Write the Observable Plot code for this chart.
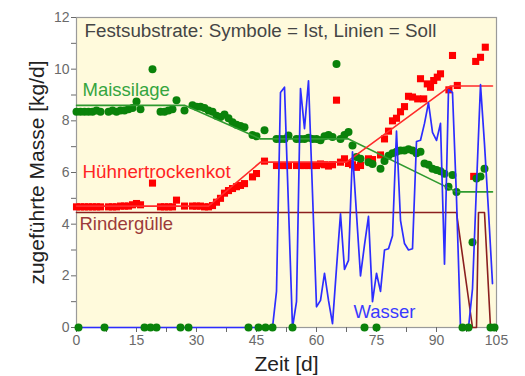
<!DOCTYPE html>
<html>
<head>
<meta charset="utf-8">
<script src="https://cdn.jsdelivr.net/npm/d3@7"></script>
<script src="https://cdn.jsdelivr.net/npm/@observablehq/plot@0.6"></script>
<style>
  body { margin: 0; background: #fff; }
</style>
</head>
<body>
<div id="chart"></div>
<script>
// Maissilage – measured feed (Ist), kg/d
const maisDays = [0,1,2,3,4,5,6,8,9,10,11,12,13,14,15,16,19,21,22,23,24,25,27,29,30,31,32,33,34,35,36,37,38,39,40,41,42,44,45,47,50,51,52,53,55,56,57,58,59,60,61,62,63,64,65,66,67,68,69,70,71,73,74,76,77,78,79,80,81,82,83,84,85,86,87,88,89,90,91,92,93,94,95,99,100,101,102];
const maisIst  = [8.35,8.35,8.35,8.35,8.35,8.4,8.35,8.35,8.4,8.35,8.4,8.4,8.45,8.5,8.75,8.45,10.0,8.35,8.35,8.4,8.45,8.8,8.4,8.6,8.55,8.55,8.5,8.4,8.35,8.2,8.15,8.25,8.1,7.95,7.85,7.8,7.75,7.45,7.4,7.64,7.3,7.3,7.3,7.43,7.3,7.3,7.3,7.35,7.3,7.3,7.25,7.4,7.45,7.37,10.2,7.3,7.45,7.57,7.05,6.6,6.53,6.4,6.33,6.15,6.45,6.65,6.75,6.8,6.85,6.85,6.9,6.85,6.75,6.8,6.35,6.3,6.15,6.1,6.05,5.95,5.45,5.9,5.25,3.3,5.77,5.85,6.15];

// Hühnertrockenkot – measured feed (Ist), kg/d
const huhnDays = [0,1,2,3,4,5,6,8,9,10,11,12,13,14,15,16,19,21,22,23,24,25,27,29,30,31,32,33,34,35,36,37,38,39,40,41,42,44,45,47,50,51,52,53,55,56,57,58,59,60,61,62,63,64,65,66,67,68,69,70,71,73,74,76,77,78,79,80,81,82,83,84,85.3,86,86.8,87.7,88.5,89.3,90.2,91,93.1,94,95.2,99.3,99.8,101,102.2];
const huhnIst  = [4.67,4.67,4.67,4.67,4.67,4.67,4.67,4.67,4.67,4.67,4.7,4.7,4.7,4.75,4.8,4.75,5.59,4.67,4.67,4.67,4.67,4.93,4.7,4.7,4.7,4.7,4.67,4.67,4.72,4.85,5.0,5.2,5.3,5.38,5.45,5.5,5.57,5.83,5.96,6.44,6.27,6.27,6.27,6.27,6.27,6.27,6.27,6.27,6.27,6.27,6.33,6.3,6.25,6.3,8.8,6.4,6.53,6.35,6.3,6.2,6.27,6.53,6.5,6.68,7.3,7.6,8.0,8.1,8.35,8.55,8.95,8.92,8.85,9.63,8.85,9.43,9.3,9.56,9.69,9.82,9.2,10.53,9.37,5.85,10.3,10.46,10.85];

// Days with no solid feed delivered (plotted at zero)
const zeroDays = [0.5,7,17,18.5,20,26,28,43,45.5,47.25,49,54,72,75,96.5,98,103.5,104.5];

// Target feed plans (Soll), kg/d
const maisSollDays = [0,27,46,68,95,104];
const maisSoll     = [8.6,8.6,7.3,7.3,5.25,5.25];
const huhnSollDays = [0,33,46,67.5,93.5,104];
const huhnSoll     = [4.7,4.7,6.4,6.4,9.35,9.35];
const rindSollDays = [0,95,99,100,100.5,102,103.5,105];
const rindSoll     = [4.45,4.45,0,0,4.45,4.45,0,0];

// Wasser – daily water addition, kg/d
const wasserDays = [0,49,50,51,52,53,54,55,56,57,58,59,60,61,62,63,64,65,66,67,68,69,70,71,72,73,74,75,76,77,78,79,80,81,82,83,84,85,86,87,88,89,90,91,92,93,94,95,96,97,98,99,100,101,102,103,104];
const wasser     = [0,0,1.4,9.1,9.3,4.65,0,1.0,9.25,7.7,9.55,5.2,0.8,1.05,2.1,1.05,0.15,2.3,4.4,2.25,2.6,6.8,4.4,2.0,3.2,4.3,1.0,2.1,1.4,3.0,3.05,3.55,7.6,4.15,3.25,3.0,3.05,7.2,7.25,7.9,8.7,7.55,7.24,7.9,2.45,9.2,9.1,5.0,0,0,0,1.5,5.5,9.4,7.1,4.5,1.7];

// Axis ticks
const xTicks = d3.range(0, 105.1, 7.5);
const yTicks = d3.range(0, 12.1, 1);

const zip = (xs, ys) => xs.map((x, i) => ({x, y: ys[i]}));
const maisIstData = zip(maisDays, maisIst);
const huhnIstData = zip(huhnDays, huhnIst);
const zeroData = zeroDays.map(x => ({x, y: 0}));
const maisSollData = zip(maisSollDays, maisSoll);
const huhnSollData = zip(huhnSollDays, huhnSoll);
const rindSollData = zip(rindSollDays, rindSoll);
const wasserData = zip(wasserDays, wasser);

const font = "Arial, 'Liberation Sans', Helvetica, sans-serif";

const chart = Plot.plot({
  width: 525,
  height: 376,
  marginLeft: 76,
  marginRight: 29,
  marginTop: 17,
  marginBottom: 49,
  style: {fontFamily: font, background: "#fff", overflow: "visible"},
  x: {domain: [0, 105]},
  y: {domain: [0, 12]},
  marks: [
    Plot.frame({fill: "#fffadc", stroke: null}),
    Plot.frame({stroke: "#9a9a9a", strokeWidth: 1.2}),
    Plot.axisX({ticks: xTicks, tickFormat: d => d % 15 === 0 ? d : "", tickSize: 5, tickPadding: 3,
      fontSize: 14, color: "#6a6a6a", label: null}),
    Plot.axisY({ticks: yTicks, tickFormat: d => d % 2 === 0 ? d : "", tickSize: 5, tickPadding: 2,
      fontSize: 14, color: "#6a6a6a", label: null}),

    // measured values
    Plot.dot(huhnIstData, {x: "x", y: "y", symbol: "square", r: 4, fill: "#ff0000", stroke: null}),
    Plot.dot(maisIstData, {x: "x", y: "y", r: 4, fill: "#0a820a", stroke: null}),

    // target plans
    Plot.line(maisSollData, {x: "x", y: "y", stroke: "#2f9a2f", strokeWidth: 1.6}),
    Plot.line(huhnSollData, {x: "x", y: "y", stroke: "#ff2b2b", strokeWidth: 1.6}),
    Plot.line(rindSollData, {x: "x", y: "y", stroke: "#8b1f1f", strokeWidth: 1.6}),

    // water
    Plot.line(wasserData, {x: "x", y: "y", stroke: "#2d2dff", strokeWidth: 1.7}),
    Plot.dot(zeroData, {x: "x", y: "y", r: 4, fill: "#0a820a", stroke: null}),

    // series labels
    Plot.text(["Festsubstrate: Symbole = Ist, Linien = Soll"], {x: 2, y: 11.24, textAnchor: "start", lineAnchor: "bottom", fontSize: 18.8, fill: "#454545"}),
    Plot.text(["Maissilage"], {x: 1.5, y: 8.96, textAnchor: "start", lineAnchor: "bottom", fontSize: 18.5, fill: "#35a53f"}),
    Plot.text(["Hühnertrockenkot"], {x: 1.5, y: 5.77, textAnchor: "start", lineAnchor: "bottom", fontSize: 18.8, fill: "#ff2424"}),
    Plot.text(["Rindergülle"], {x: 0.75, y: 3.76, textAnchor: "start", lineAnchor: "bottom", fontSize: 18.5, fill: "#9c3a3a"}),
    Plot.text(["Wasser"], {x: 69.25, y: 0.35, textAnchor: "start", lineAnchor: "bottom", fontSize: 18.5, fill: "#3a3aff"}),

    // axis titles
    Plot.text(["Zeit [d]"], {frameAnchor: "bottom", dy: 43, textAnchor: "middle", lineAnchor: "bottom", fontSize: 21, fill: "#222"}),
    Plot.text(["zugeführte Masse [kg/d]"], {frameAnchor: "left", dx: -33, rotate: -90, textAnchor: "middle", lineAnchor: "bottom", fontSize: 21, fill: "#222"})
  ]
});

document.getElementById("chart").appendChild(chart);
</script>
</body>
</html>
